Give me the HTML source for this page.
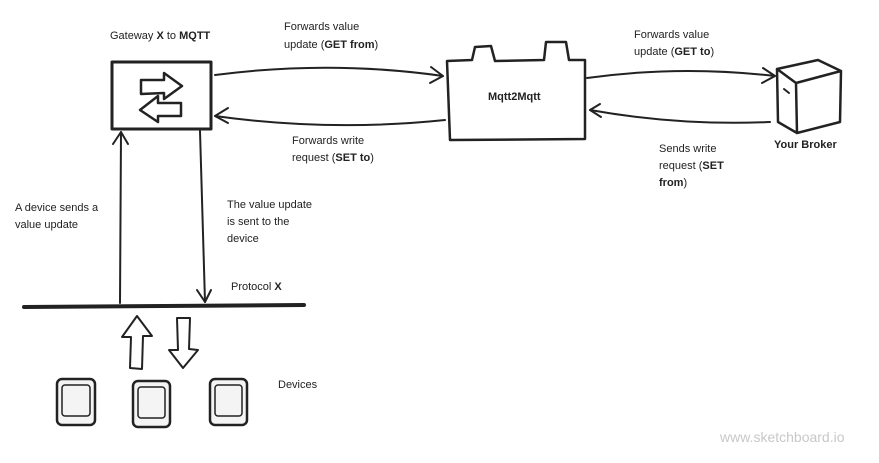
<!DOCTYPE html>
<html><head><style>
body{margin:0;background:#fff;}
svg text{font-family:"Liberation Sans",sans-serif;font-size:11px;fill:#222;}
</style></head><body>
<svg width="879" height="458" viewBox="0 0 879 458" xmlns="http://www.w3.org/2000/svg">
<g fill="none" stroke="#222" stroke-width="2" stroke-linejoin="round" stroke-linecap="round">
<!-- gateway box -->
<rect x="112" y="62" width="99" height="67" stroke-width="3"/>
<path d="M141 80 L164 80 L164 73 L182 86 L164 99 L164 93 L141 94 Z" stroke-width="2.5"/>
<path d="M181 103 L158 103 L158 96 L140 110 L158 122 L158 116 L181 116 Z" stroke-width="2.5"/>
<!-- mqtt2mqtt -->
<path d="M447 61 L472 60 L475 47 L491 46 L495 61 L544 60 L546 42 L566 42 L569 60 L585 60 L585 139 L450 140 Z" stroke-width="2.5"/>
<!-- broker cube -->
<path d="M777 69 L818 60 L841 71 L796 83 Z M777 69 L778 122 L797 133 L796 83 M841 71 L840 122 L797 133" stroke-width="2.5"/>
<path d="M784 89 L789 93" stroke-width="2"/>
<!-- connectors -->
<path d="M215 75 Q330 60 443 76"/>
<path d="M431 67 L443 76 L430 83"/>
<path d="M445 120 Q330 132 215 116"/>
<path d="M228 108 L215 116 L228 123"/>
<path d="M587 78 Q680 65 775 76"/>
<path d="M763 68 L775 76 L762 83"/>
<path d="M770 122 Q680 126 590 110"/>
<path d="M600 104 L590 110 L601 117"/>
<path d="M120 303 L121 132"/>
<path d="M113 144 L121 132 L128 144"/>
<path d="M200 131 L205 302"/>
<path d="M197 290 L205 302 L211 290"/>
<!-- protocol line -->
<path d="M24 307 L304 305" stroke-width="4"/>
<!-- big arrows -->
<path d="M130 368 L131 337 L122 337 L137 316 L152 336 L143 336 L142 369 Z" stroke-width="2"/>
<path d="M177 318 L190 318 L189 349 L198 350 L183 368 L169 350 L178 350 Z" stroke-width="2"/>
</g>
<!-- devices -->
<g fill="#f4f4f4" stroke="#222" stroke-width="2.5">
<rect x="57" y="379" width="38" height="46" rx="5"/>
<rect x="133" y="381" width="37" height="46" rx="5"/>
<rect x="210" y="379" width="37" height="46" rx="5"/>
</g>
<g fill="none" stroke="#222" stroke-width="1.5">
<rect x="62" y="385" width="28" height="31" rx="3"/>
<rect x="138" y="387" width="27" height="31" rx="3"/>
<rect x="215" y="385" width="27" height="31" rx="3"/>
</g>
<text x="110" y="39">Gateway <tspan font-weight="bold">X</tspan> to <tspan font-weight="bold">MQTT</tspan></text>
<text x="284" y="30">Forwards value</text>
<text x="284" y="48">update (<tspan font-weight="bold">GET from</tspan>)</text>
<text x="292" y="144">Forwards write</text>
<text x="292" y="161">request (<tspan font-weight="bold">SET to</tspan>)</text>
<text x="488" y="100" font-weight="bold">Mqtt2Mqtt</text>
<text x="634" y="38">Forwards value</text>
<text x="634" y="55">update (<tspan font-weight="bold">GET to</tspan>)</text>
<text x="774" y="148" font-weight="bold">Your Broker</text>
<text x="659" y="152">Sends write</text>
<text x="659" y="169">request (<tspan font-weight="bold">SET</tspan></text>
<text x="659" y="186" font-weight="bold">from<tspan font-weight="normal">)</tspan></text>
<text x="15" y="211">A device sends a</text>
<text x="15" y="228">value update</text>
<text x="227" y="208">The value update</text>
<text x="227" y="225">is sent to the</text>
<text x="227" y="242">device</text>
<text x="231" y="290">Protocol <tspan font-weight="bold">X</tspan></text>
<text x="278" y="388">Devices</text>
<text x="720" y="442" style="font-size:14px;fill:#c8c8c8">www.sketchboard.io</text>
</svg>
</body></html>
